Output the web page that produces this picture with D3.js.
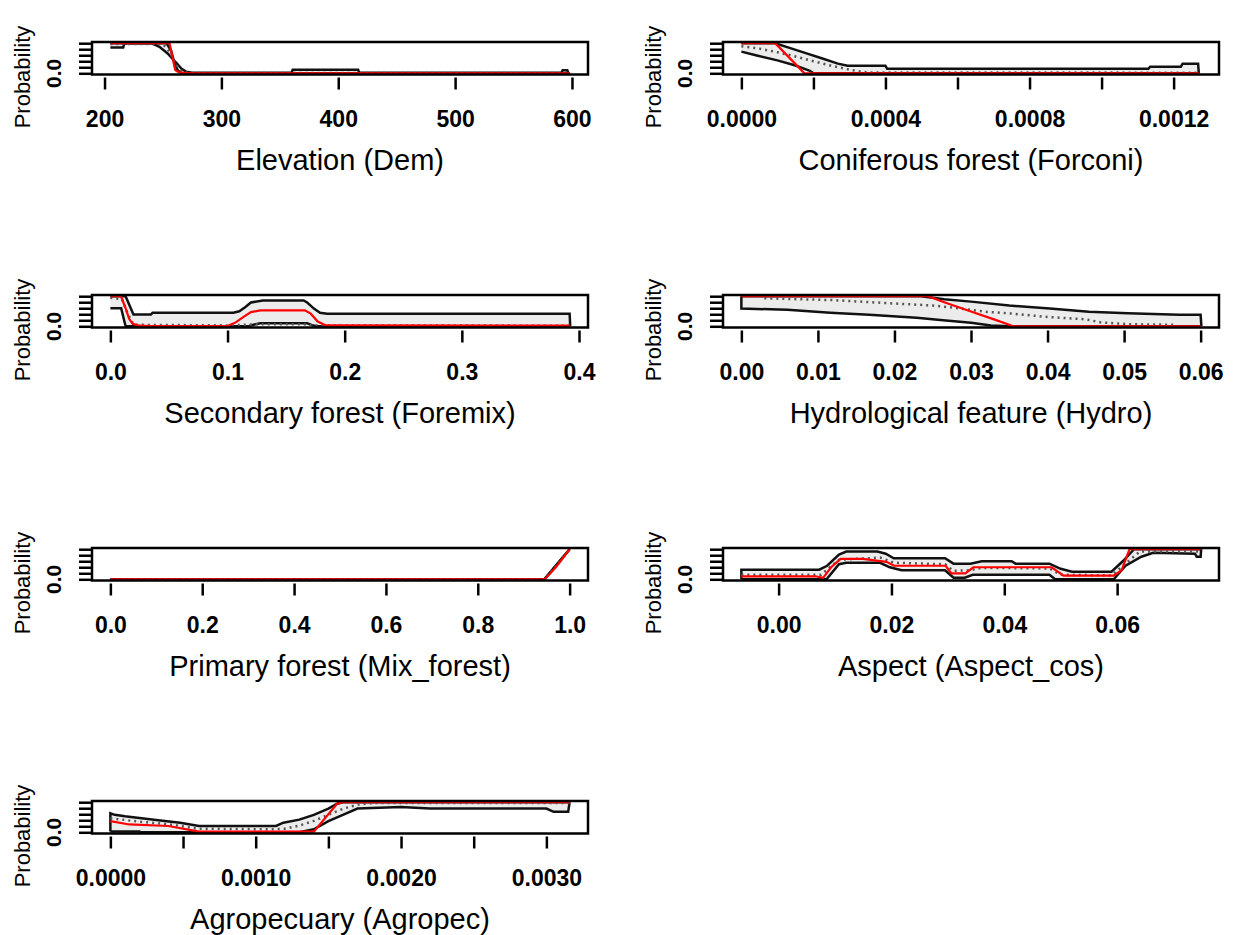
<!DOCTYPE html>
<html>
<head>
<meta charset="utf-8">
<script src="https://cdn.jsdelivr.net/npm/d3@7"></script>
<style>
body { margin: 0; background: #fff; }
svg { display: block; }
text { font-family: "Liberation Sans", Arial, sans-serif; fill: #000; }
</style>
</head>
<body>
<svg id="chart"></svg>
<script>
// panel titles, x ranges and tick values
const titles = ["Elevation (Dem)", "Coniferous forest (Forconi)", "Secondary forest (Foremix)",
  "Hydrological feature (Hydro)", "Primary forest (Mix_forest)", "Aspect (Aspect_cos)", "Agropecuary (Agropec)"];
const xRanges = [[205, 598], [0, 0.001275], [0, 0.392], [0, 0.06], [0, 1], [-0.0066, 0.0748], [0, 0.00316]];
const xTicks = [
  [200, 300, 400, 500, 600],
  [0, 0.0002, 0.0004, 0.0006, 0.0008, 0.0010, 0.0012],
  [0, 0.1, 0.2, 0.3, 0.4],
  [0, 0.01, 0.02, 0.03, 0.04, 0.05, 0.06],
  [0, 0.2, 0.4, 0.6, 0.8, 1.0],
  [0, 0.02, 0.04, 0.06],
  [0, 0.0005, 0.0010, 0.0015, 0.0020, 0.0025, 0.0030]
];
const xLabels = [
  ["200", "300", "400", "500", "600"],
  ["0.0000", "", "0.0004", "", "0.0008", "", "0.0012"],
  ["0.0", "0.1", "0.2", "0.3", "0.4"],
  ["0.00", "0.01", "0.02", "0.03", "0.04", "0.05", "0.06"],
  ["0.0", "0.2", "0.4", "0.6", "0.8", "1.0"],
  ["0.00", "0.02", "0.04", "0.06"],
  ["0.0000", "", "0.0010", "", "0.0020", "", "0.0030"]
];
const yTicks = [0, 0.2, 0.4, 0.6, 0.8, 1.0];

// Elevation (Dem)
const demUpper = [[205,1],[240,1],[247,0.88],[254,0.66],[261,0.36],[266,0.15],[270,0.05],[275,0.02],[360,0.02],[361,0.12],[417,0.12],[418,0.02],[591,0.02],[592,0.1],[596,0.1],[597,0]];
const demLower = [[205,0.86],[216,0.86],[217,1],[253,1],[257,0.75],[260,0.3],[263,0.08],[266,0],[598,0]];
const demMean = [[205,0.97],[250,0.97],[256,0.7],[261,0.3],[266,0.06],[272,0.01],[598,0.01]];
const demRed = [[205,1],[255.6,1],[260.5,0.11],[263.8,0.03],[273.6,0],[598,0]];

// Coniferous forest (Forconi)
const forconiUpper = [[0,1],[0.000094,1],[0.000138,0.83],[0.000181,0.66],[0.000225,0.49],[0.000268,0.32],[0.000295,0.25],[0.0004,0.25],[0.000405,0.15],[0.00113,0.15],[0.001135,0.22],[0.00122,0.22],[0.001225,0.32],[0.001268,0.32],[0.00127,0]];
const forconiLower = [[0,0.72],[0.00004,0.6],[0.0001,0.43],[0.00015,0.26],[0.00019,0.08],[0.0002,0],[0.00127,0]];
const forconiMean = [[0,0.9],[0.00005,0.82],[0.0001,0.7],[0.00015,0.56],[0.0002,0.4],[0.00025,0.25],[0.0003,0.12],[0.00033,0.06],[0.00035,0.03],[0.00127,0.02]];
const forconiRed = [[0,1],[0.000094,1],[0.000175,0],[0.00127,0]];

// Secondary forest (Foremix)
const foremixUpper = [[0,1],[0.013,1],[0.0197,0.39],[0.0345,0.39],[0.036,0.45],[0.105,0.45],[0.11,0.5],[0.115,0.63],[0.12,0.79],[0.13,0.86],[0.165,0.86],[0.168,0.79],[0.174,0.58],[0.179,0.45],[0.185,0.42],[0.392,0.42],[0.3925,0]];
const foremixLower = [[0,0.6],[0.0092,0.6],[0.013,0],[0.118,0],[0.123,0.06],[0.128,0.1],[0.168,0.1],[0.172,0.04],[0.176,0],[0.392,0]];
const foremixMean = [[0,0.95],[0.01,0.9],[0.015,0.4],[0.02,0.05],[0.1,0.03],[0.12,0.06],[0.13,0.07],[0.165,0.07],[0.175,0.03],[0.392,0.02]];
const foremixRed = [[0,1],[0.009,1],[0.013,0.6],[0.016,0.25],[0.019,0.08],[0.025,0.02],[0.035,0.01],[0.1,0.01],[0.107,0.13],[0.114,0.32],[0.12,0.47],[0.128,0.53],[0.166,0.53],[0.171,0.42],[0.177,0.16],[0.184,0.03],[0.392,0.02]];

// Hydrological feature (Hydro)
const hydroUpper = [[0,1],[0.0235,1],[0.025,0.95],[0.0265,0.9],[0.03,0.82],[0.035,0.69],[0.0403,0.59],[0.0454,0.48],[0.0505,0.43],[0.0572,0.38],[0.06,0.38],[0.0601,0]];
const hydroLower = [[0,1],[0,0.59],[0.006,0.55],[0.0116,0.45],[0.0167,0.38],[0.0229,0.28],[0.026,0.21],[0.03,0.12],[0.0326,0.03],[0.035,0],[0.06,0]];
const hydroMean = [[0.003,0.93],[0.012,0.87],[0.0198,0.76],[0.025,0.69],[0.028,0.61],[0.032,0.48],[0.035,0.43],[0.04,0.31],[0.045,0.23],[0.047,0.13],[0.0505,0.07],[0.0567,0.05]];
const hydroRed = [[0,1],[0.0244,1],[0.0265,0.8],[0.03,0.49],[0.033,0.23],[0.035,0.05],[0.0355,0],[0.06,0]];

// Primary forest (Mix_forest)
const mixUpper = [[0,0],[0.945,0],[1,1]];
const mixLower = [[0,0],[0.945,0],[1,1]];
const mixMean = [[0,0],[0.945,0],[1,1]];
const mixRed = [[0,0],[0.945,0],[0.955,0.15],[0.97,0.4],[0.985,0.7],[1,1]];

// Aspect (Aspect_cos)
const aspectUpper = [[-0.0066,0],[-0.0066,0.32],[0.0072,0.32],[0.0086,0.45],[0.0107,0.82],[0.012,0.92],[0.0175,0.92],[0.019,0.85],[0.0204,0.7],[0.0295,0.7],[0.031,0.52],[0.034,0.52],[0.036,0.6],[0.0413,0.6],[0.042,0.52],[0.048,0.52],[0.05,0.35],[0.052,0.25],[0.059,0.25],[0.061,0.6],[0.063,1],[0.0748,1]];
const aspectLower = [[-0.0066,0],[0.0085,0],[0.0107,0.5],[0.012,0.55],[0.018,0.55],[0.0197,0.4],[0.0218,0.3],[0.0295,0.3],[0.031,0.05],[0.033,0.05],[0.0344,0.15],[0.048,0.15],[0.049,0],[0.0594,0],[0.0615,0.45],[0.0643,0.75],[0.0664,0.88],[0.0738,0.85],[0.0741,0.75],[0.0748,0.75],[0.0749,1]];
const aspectMean = [[-0.0066,0.15],[0.0075,0.15],[0.0107,0.65],[0.018,0.72],[0.0205,0.55],[0.0295,0.5],[0.031,0.28],[0.034,0.3],[0.036,0.38],[0.048,0.36],[0.05,0.15],[0.059,0.13],[0.062,0.6],[0.064,0.92],[0.0748,0.92]];
const aspectRed = [[-0.0066,0.1],[0.0065,0.1],[0.0079,0.05],[0.0093,0.4],[0.011,0.68],[0.0149,0.68],[0.0191,0.58],[0.0205,0.45],[0.0296,0.45],[0.0306,0.2],[0.0331,0.2],[0.0345,0.4],[0.0484,0.4],[0.0505,0.12],[0.0594,0.12],[0.0608,0.3],[0.0622,1],[0.0748,1]];

// Agropecuary (Agropec)
const agroUpper = [[0,0.03],[0,0.63],[0.00003,0.58],[0.0001,0.53],[0.0003,0.42],[0.00048,0.32],[0.00061,0.21],[0.00114,0.21],[0.00119,0.32],[0.0013,0.42],[0.0014,0.58],[0.0015,0.79],[0.00156,0.95],[0.0016,1],[0.00316,1]];
const agroLower = [[0,0.03],[0.0002,0.03],[0.00021,0],[0.0013,0],[0.0014,0.1],[0.0015,0.37],[0.0016,0.58],[0.0017,0.79],[0.002,0.84],[0.0022,0.79],[0.003,0.79],[0.00305,0.68],[0.00315,0.68],[0.00316,1]];
const agroMean = [[0,0.47],[0.0002,0.35],[0.0004,0.27],[0.0006,0.12],[0.0011,0.1],[0.0012,0.12],[0.0013,0.22],[0.0014,0.38],[0.0015,0.58],[0.0016,0.78],[0.0017,0.92],[0.0018,0.97],[0.00316,0.97]];
const agroRed = [[0,0.37],[0.00013,0.26],[0.0004,0.21],[0.00061,0.02],[0.0014,0.02],[0.00156,0.95],[0.0016,1],[0.00316,1]];

const panels = [
  { upper: demUpper, lower: demLower, mean: demMean, red: demRed },
  { upper: forconiUpper, lower: forconiLower, mean: forconiMean, red: forconiRed },
  { upper: foremixUpper, lower: foremixLower, mean: foremixMean, red: foremixRed },
  { upper: hydroUpper, lower: hydroLower, mean: hydroMean, red: hydroRed },
  { upper: mixUpper, lower: mixLower, mean: mixMean, red: mixRed },
  { upper: aspectUpper, lower: aspectLower, mean: aspectMean, red: aspectRed },
  { upper: agroUpper, lower: agroLower, mean: agroMean, red: agroRed }
];

const width = 1233, height = 935;
const colLeft = [92, 723];
const rowTop = [42, 295, 548, 801];
const boxW = 496, boxH = 32.5;

const svg = d3.select("#chart").attr("width", width).attr("height", height);
svg.append("rect").attr("width", width).attr("height", height).attr("fill", "#fff");

panels.forEach((p, i) => {
  const left = colLeft[i % 2];
  const top = rowTop[Math.floor(i / 2)];
  const [a, b] = xRanges[i];
  const pad = (b - a) * 0.04;

  const x = d3.scaleLinear().domain([a - pad, b + pad]).range([left, left + boxW]);
  const y = d3.scaleLinear().domain([-0.04, 1.04]).range([top + boxH, top]);
  const line = d3.line().x(d => x(d[0])).y(d => y(d[1]));

  const g = svg.append("g");

  // confidence band
  g.append("path")
    .attr("d", line(p.upper.concat(p.lower.slice().reverse())) + "Z")
    .attr("fill", "#ececec")
    .attr("stroke", "none");

  g.append("path").attr("d", line(p.lower))
    .attr("fill", "none").attr("stroke", "#111").attr("stroke-width", 2.5);
  g.append("path").attr("d", line(p.upper))
    .attr("fill", "none").attr("stroke", "#111").attr("stroke-width", 2.5);
  g.append("path").attr("d", line(p.mean))
    .attr("fill", "none").attr("stroke", "#555").attr("stroke-width", 2.5)
    .attr("stroke-dasharray", "2,4");
  g.append("path").attr("d", line(p.red))
    .attr("fill", "none").attr("stroke", "#ff0000").attr("stroke-width", 2.2);

  // plot box
  g.append("rect")
    .attr("x", left).attr("y", top)
    .attr("width", boxW).attr("height", boxH)
    .attr("fill", "none").attr("stroke", "#000").attr("stroke-width", 2.5);

  // y axis ticks
  const yAxis = g.append("g")
    .attr("transform", `translate(${left},0)`)
    .call(d3.axisLeft(y).tickValues(yTicks).tickSize(13).tickFormat(""));
  yAxis.select(".domain").remove();
  yAxis.selectAll("line").attr("stroke", "#000").attr("stroke-width", 2.5);

  g.append("text")
    .attr("transform", `translate(${left - 31},${y(0)}) rotate(-90)`)
    .attr("text-anchor", "middle")
    .attr("font-size", 21)
    .attr("font-weight", "bold")
    .text("0.0");

  g.append("text")
    .attr("transform", `translate(${left - 62},${top + 35}) rotate(-90)`)
    .attr("text-anchor", "middle")
    .attr("font-size", 22)
    .text("Probability");

  // x axis
  const labels = xLabels[i];
  const xAxis = g.append("g")
    .attr("transform", `translate(0,${top + boxH + 3})`)
    .call(d3.axisBottom(x).tickValues(xTicks[i]).tickSize(12).tickPadding(21)
      .tickFormat((d, k) => labels[k]));
  xAxis.select(".domain").remove();
  xAxis.selectAll("line").attr("stroke", "#000").attr("stroke-width", 2.5);
  xAxis.selectAll("text")
    .attr("font-size", 23)
    .attr("font-weight", "bold")
    .attr("font-family", "'Liberation Sans', Arial, sans-serif")
    .attr("fill", "#000");

  g.append("text")
    .attr("x", left + boxW / 2)
    .attr("y", top + 128)
    .attr("text-anchor", "middle")
    .attr("font-size", 29)
    .text(titles[i]);
});
</script>
</body>
</html>
